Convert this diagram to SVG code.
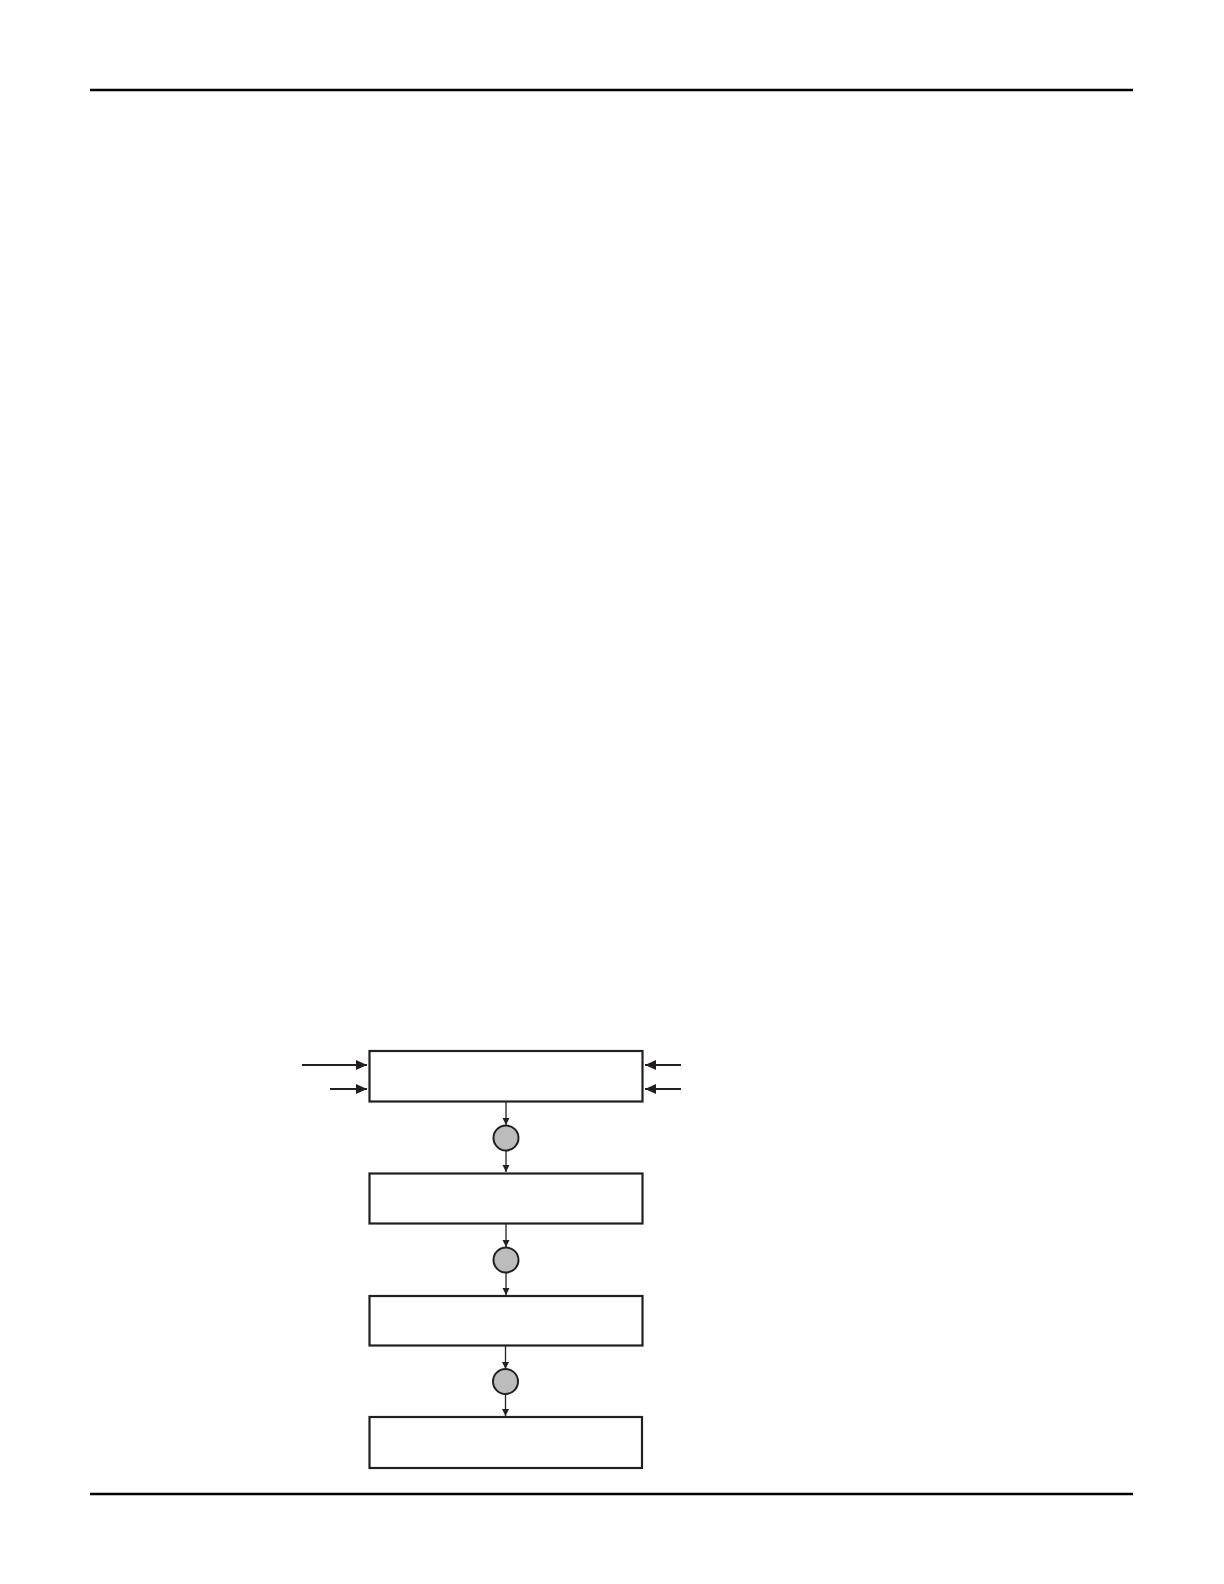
<svg xmlns="http://www.w3.org/2000/svg" width="1224" height="1584" viewBox="0 0 1224 1584">
<style>
.rule{stroke:#000;stroke-width:2.6}
.box{fill:#fff;stroke:#231f20;stroke-width:2.2}
.node{fill:#bcbcbc;stroke:#231f20;stroke-width:2}
.thin{stroke:#231f20;stroke-width:1.3;fill:none}
.thick{stroke:#231f20;stroke-width:2.2;fill:none}
</style>
<defs>
<marker id="sm" markerWidth="8" markerHeight="8" refX="7" refY="4" orient="auto" markerUnits="userSpaceOnUse">
<path d="M0,0.5 L7,4 L0,7.5 Z" fill="#231f20"/>
</marker>
<marker id="lg" markerWidth="12" markerHeight="12" refX="11" refY="6" orient="auto" markerUnits="userSpaceOnUse">
<path d="M0,1 L11,6 L0,11 Z" fill="#231f20"/>
</marker>
</defs>
<rect width="1224" height="1584" fill="#fff"/>
<line class="rule" x1="90" y1="90" x2="1133" y2="90"/>
<line class="rule" x1="90" y1="1494" x2="1133" y2="1494"/>
<g id="connectors">
<line class="thick" x1="302" y1="1065" x2="367" y2="1065" marker-end="url(#lg)"/>
<line class="thick" x1="330" y1="1089" x2="367" y2="1089" marker-end="url(#lg)"/>
<line class="thick" x1="681" y1="1065" x2="645" y2="1065" marker-end="url(#lg)"/>
<line class="thick" x1="681" y1="1089" x2="645" y2="1089" marker-end="url(#lg)"/>
<line class="thin" x1="506" y1="1102" x2="506" y2="1125" marker-end="url(#sm)"/>
<line class="thin" x1="506" y1="1151" x2="506" y2="1172" marker-end="url(#sm)"/>
<line class="thin" x1="506" y1="1224" x2="506" y2="1247" marker-end="url(#sm)"/>
<line class="thin" x1="506" y1="1273" x2="506" y2="1295" marker-end="url(#sm)"/>
<line class="thin" x1="505.5" y1="1346" x2="505.5" y2="1369" marker-end="url(#sm)"/>
<line class="thin" x1="505.5" y1="1394" x2="505.5" y2="1416" marker-end="url(#sm)"/>
</g>
<g id="box1"><rect class="box" x="369.5" y="1051" width="273" height="50.5"/></g>
<g id="node1"><circle class="node" cx="506" cy="1138" r="12.5"/></g>
<g id="box2"><rect class="box" x="369.5" y="1173.5" width="273" height="50"/></g>
<g id="node2"><circle class="node" cx="506" cy="1260" r="12.5"/></g>
<g id="box3"><rect class="box" x="369.5" y="1296" width="273" height="49.5"/></g>
<g id="node3"><circle class="node" cx="505.5" cy="1381.5" r="12.5"/></g>
<g id="box4"><rect class="box" x="369.5" y="1417" width="272.5" height="51"/></g>
</svg>
